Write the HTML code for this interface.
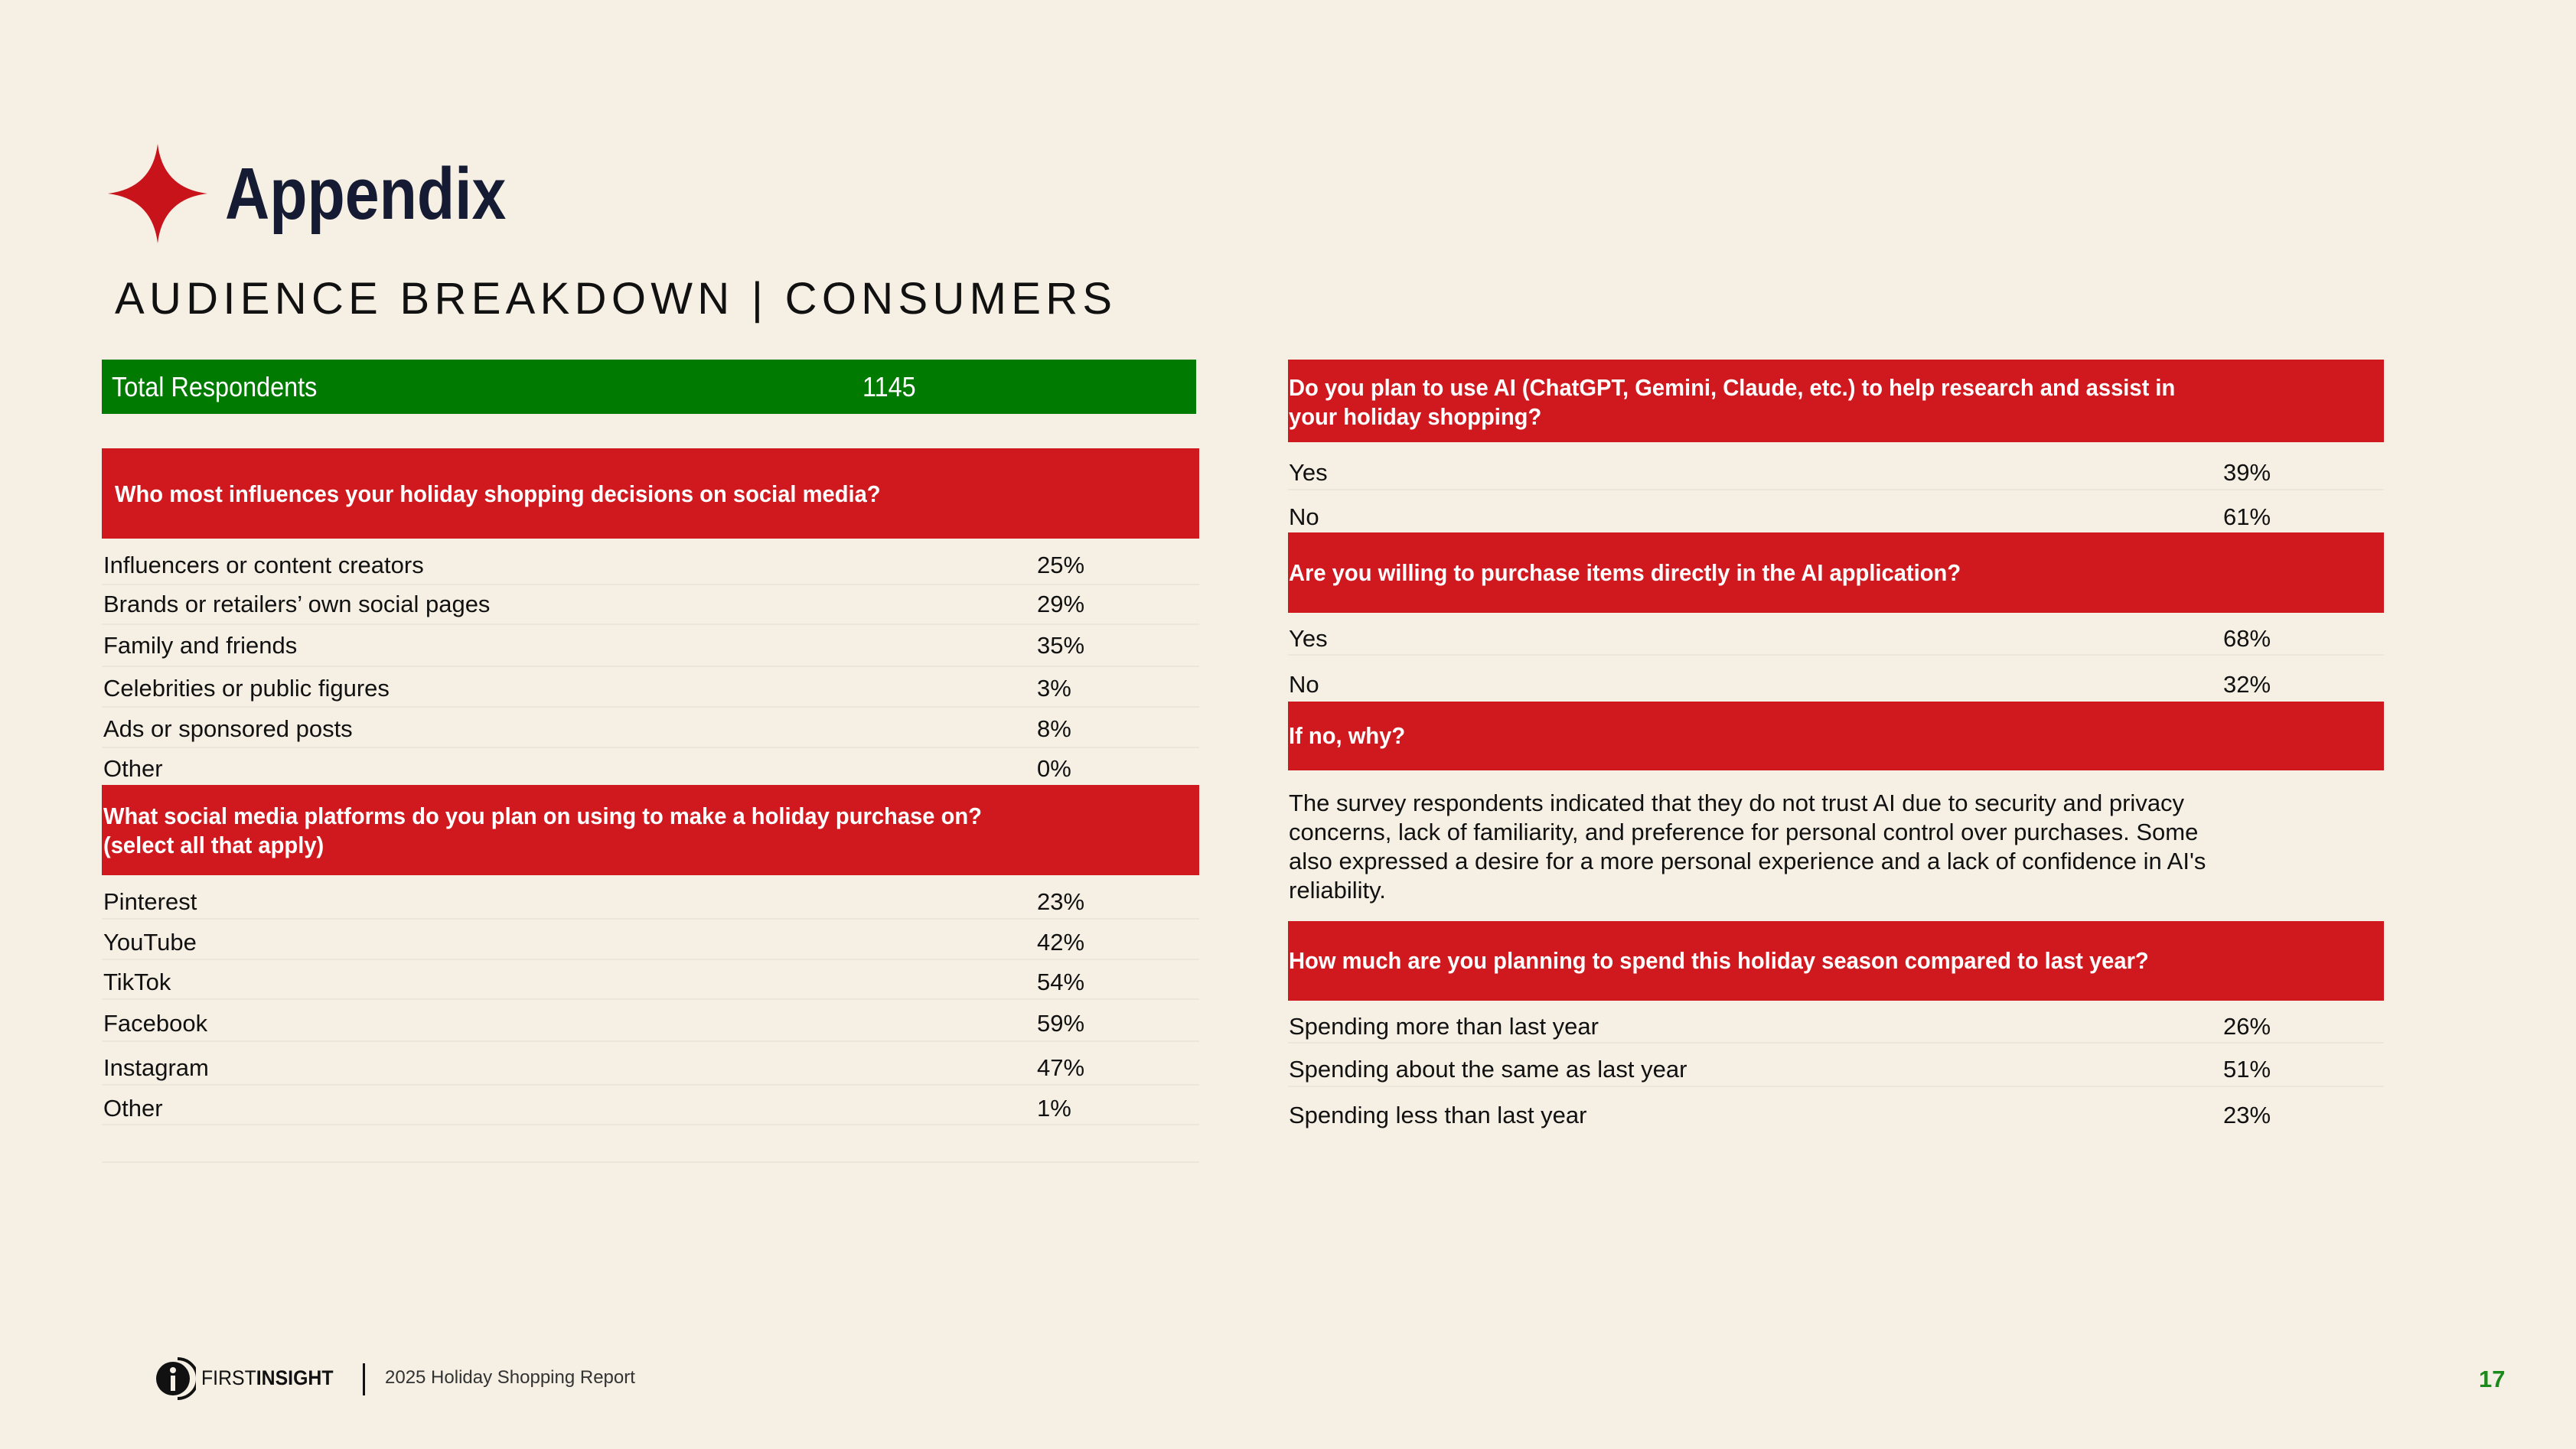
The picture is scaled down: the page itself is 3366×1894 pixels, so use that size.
<!DOCTYPE html>
<html><head><meta charset="utf-8"><style>
*{margin:0;padding:0;box-sizing:border-box}
body{width:3366px;height:1894px;background:#f5efe4;position:relative;overflow:hidden;font-family:"Liberation Sans",sans-serif;color:#111}
.a{position:absolute;white-space:nowrap;line-height:1}
.red{position:absolute;background:#d0191f}
.hq{position:absolute;color:#fff;font-weight:bold;font-size:31px;line-height:38px;white-space:nowrap;transform:scaleX(.94);transform-origin:0 0}
.r{position:absolute;font-size:31px;line-height:1;white-space:nowrap}
.ln{position:absolute;height:2px;background:#ece6da}
</style></head><body>
<svg class="a" style="left:141px;top:188px" width="130" height="130" viewBox="0 0 130 130"><path d="M65 0 Q72 58 130 65 Q72 72 65 130 Q58 72 0 65 Q58 58 65 0Z" fill="#c8131a"/></svg>
<div class="a" style="left:294px;top:206px;font-size:96px;font-weight:bold;color:#141b33;transform:scaleX(.84);transform-origin:0 0">Appendix</div>
<div class="a" style="left:150px;top:362px;font-size:58px;letter-spacing:6.3px;color:#111;font-weight:normal">AUDIENCE BREAKDOWN | CONSUMERS</div>

<div class="a" style="left:133px;top:470px;width:1430px;height:71px;background:#007a00"></div>
<div class="a" style="left:146px;top:488px;font-size:36px;color:#fff;transform:scaleX(.9);transform-origin:0 0">Total Respondents</div>
<div class="a" style="left:1127px;top:488px;font-size:36px;color:#fff;transform:scaleX(.9);transform-origin:0 0">1145</div>

<div class="red" style="left:133px;top:586px;width:1434px;height:118px"></div>
<div class="hq" style="left:150px;top:627px">Who most influences your holiday shopping decisions on social media?</div>
<div class="r" style="left:135px;top:723px">Influencers or content creators</div><div class="r" style="left:1355px;top:723px">25%</div>
<div class="ln" style="left:133px;top:763px;width:1434px"></div>
<div class="r" style="left:135px;top:774px">Brands or retailers’ own social pages</div><div class="r" style="left:1355px;top:774px">29%</div>
<div class="ln" style="left:133px;top:815px;width:1434px"></div>
<div class="r" style="left:135px;top:828px">Family and friends</div><div class="r" style="left:1355px;top:828px">35%</div>
<div class="ln" style="left:133px;top:870px;width:1434px"></div>
<div class="r" style="left:135px;top:884px">Celebrities or public figures</div><div class="r" style="left:1355px;top:884px">3%</div>
<div class="ln" style="left:133px;top:923px;width:1434px"></div>
<div class="r" style="left:135px;top:937px">Ads or sponsored posts</div><div class="r" style="left:1355px;top:937px">8%</div>
<div class="ln" style="left:133px;top:976px;width:1434px"></div>
<div class="r" style="left:135px;top:989px">Other</div><div class="r" style="left:1355px;top:989px">0%</div>

<div class="red" style="left:133px;top:1026px;width:1434px;height:118px"></div>
<div class="hq" style="left:135px;top:1048px">What social media platforms do you plan on using to make a holiday purchase on?<br>(select all that apply)</div>
<div class="r" style="left:135px;top:1163px">Pinterest</div><div class="r" style="left:1355px;top:1163px">23%</div>
<div class="ln" style="left:133px;top:1200px;width:1434px"></div>
<div class="r" style="left:135px;top:1216px">YouTube</div><div class="r" style="left:1355px;top:1216px">42%</div>
<div class="ln" style="left:133px;top:1253px;width:1434px"></div>
<div class="r" style="left:135px;top:1268px">TikTok</div><div class="r" style="left:1355px;top:1268px">54%</div>
<div class="ln" style="left:133px;top:1305px;width:1434px"></div>
<div class="r" style="left:135px;top:1322px">Facebook</div><div class="r" style="left:1355px;top:1322px">59%</div>
<div class="ln" style="left:133px;top:1360px;width:1434px"></div>
<div class="r" style="left:135px;top:1380px">Instagram</div><div class="r" style="left:1355px;top:1380px">47%</div>
<div class="ln" style="left:133px;top:1417px;width:1434px"></div>
<div class="r" style="left:135px;top:1433px">Other</div><div class="r" style="left:1355px;top:1433px">1%</div>
<div class="ln" style="left:133px;top:1469px;width:1434px"></div>
<div class="ln" style="left:133px;top:1518px;width:1434px"></div>

<div class="red" style="left:1683px;top:470px;width:1432px;height:108px"></div>
<div class="hq" style="left:1684px;top:488px">Do you plan to use AI (ChatGPT, Gemini, Claude, etc.) to help research and assist in<br>your holiday shopping?</div>
<div class="r" style="left:1684px;top:602px">Yes</div><div class="r" style="left:2905px;top:602px">39%</div>
<div class="ln" style="left:1683px;top:639px;width:1432px"></div>
<div class="r" style="left:1684px;top:660px">No</div><div class="r" style="left:2905px;top:660px">61%</div>
<div class="red" style="left:1683px;top:696px;width:1432px;height:105px"></div>
<div class="hq" style="left:1684px;top:730px">Are you willing to purchase items directly in the AI application?</div>
<div class="r" style="left:1684px;top:819px">Yes</div><div class="r" style="left:2905px;top:819px">68%</div>
<div class="ln" style="left:1683px;top:855px;width:1432px"></div>
<div class="r" style="left:1684px;top:879px">No</div><div class="r" style="left:2905px;top:879px">32%</div>
<div class="red" style="left:1683px;top:917px;width:1432px;height:90px"></div>
<div class="hq" style="left:1684px;top:943px">If no, why?</div>
<div class="a" style="left:1684px;top:1031px;font-size:31px;line-height:38px">The survey respondents indicated that they do not trust AI due to security and privacy<br>concerns, lack of familiarity, and preference for personal control over purchases. Some<br>also expressed a desire for a more personal experience and a lack of confidence in AI's<br>reliability.</div>
<div class="red" style="left:1683px;top:1204px;width:1432px;height:104px"></div>
<div class="hq" style="left:1684px;top:1237px">How much are you planning to spend this holiday season compared to last year?</div>
<div class="r" style="left:1684px;top:1326px">Spending more than last year</div><div class="r" style="left:2905px;top:1326px">26%</div>
<div class="ln" style="left:1683px;top:1362px;width:1432px"></div>
<div class="r" style="left:1684px;top:1382px">Spending about the same as last year</div><div class="r" style="left:2905px;top:1382px">51%</div>
<div class="ln" style="left:1683px;top:1419px;width:1432px"></div>
<div class="r" style="left:1684px;top:1442px">Spending less than last year</div><div class="r" style="left:2905px;top:1442px">23%</div>

<svg class="a" style="left:202px;top:1774px" width="54" height="56" viewBox="0 0 54 56"><circle cx="24" cy="28" r="22" fill="#111"/><path d="M30 2 A26 26 0 0 1 30 54" stroke="#111" stroke-width="4" fill="none"/><circle cx="24" cy="17" r="4" fill="#f5efe4"/><rect x="21" y="24" width="6" height="20" fill="#f5efe4"/></svg>
<div class="a" style="left:263px;top:1788px;font-size:27px;color:#111;transform:scaleX(.92);transform-origin:0 0"><span>FIRST</span><b>INSIGHT</b></div>
<div class="a" style="left:474px;top:1782px;width:3px;height:42px;background:#111"></div>
<div class="a" style="left:503px;top:1789px;font-size:24px;color:#333">2025 Holiday Shopping Report</div>
<div class="a" style="left:3239px;top:1787px;font-size:31px;font-weight:bold;color:#1a8a1a">17</div>
</body></html>
